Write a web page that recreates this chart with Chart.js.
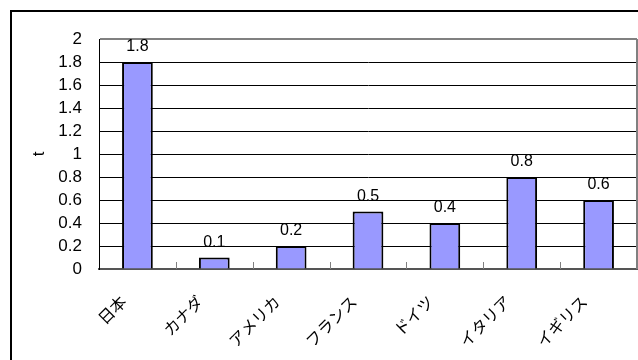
<!DOCTYPE html>
<html>
<head>
<meta charset="utf-8">
<script src="https://cdn.jsdelivr.net/npm/chart.js@4.4.0/dist/chart.umd.min.js"></script>
<style>
html, body { margin: 0; padding: 0; background: #fff; }
#wrap { width: 638px; height: 360px; }
</style>
</head>
<body>
<div id="wrap"><canvas id="chart" width="638" height="360"></canvas></div>
<script>
const categories = ['日本', 'カナダ', 'アメリカ', 'フランス', 'ドイツ', 'イタリア', 'イギリス'];
const values = [1.8, 0.1, 0.2, 0.5, 0.4, 0.8, 0.6];
const yMin = 0, yMax = 2, yStep = 0.2;
const yTitle = 't';

const FONT = "'Liberation Sans', 'Noto Sans CJK JP', sans-serif";

// frame around the whole chart, right border of the plot area
let frame = {
	id: 'frame',
	beforeDraw: function(chart){
		let ctx = chart.ctx;
		ctx.save();
		ctx.fillStyle = '#fff';
		ctx.fillRect(0, 0, chart.width, chart.height);
		ctx.strokeStyle = '#000';
		ctx.lineWidth = 2;
		ctx.strokeRect(11, 11, 700, 700);
		ctx.restore();
	},
	afterDatasetsDraw: function(chart){
		let ctx = chart.ctx;
		let a = chart.chartArea;
		let x = chart.scales.x;
		ctx.save();
		ctx.strokeStyle = '#808080';
		ctx.lineWidth = 1;
		// category separators on the x axis
		for (let i = 1; i < categories.length; i++){
			let px = Math.round(x.getPixelForValue(i - 0.5)) + 0.5;
			ctx.beginPath();
			ctx.moveTo(px, a.bottom);
			ctx.lineTo(px, a.bottom - 7);
			ctx.stroke();
		}
		ctx.lineWidth = 2;
		ctx.beginPath();
		ctx.moveTo(a.right, a.top);
		ctx.lineTo(a.right, a.bottom);
		ctx.stroke();
		ctx.restore();
	}
}

// value labels over the bars
let value_labels = {
	id: 'value_labels',
	afterDatasetsDraw: function(chart){
		let ctx = chart.ctx;
		let meta = chart.getDatasetMeta(0);
		ctx.save();
		ctx.font = '16px ' + FONT;
		ctx.fillStyle = '#000';
		ctx.textAlign = 'center';
		ctx.textBaseline = 'bottom';
		meta.data.forEach((bar, i) => {
			ctx.fillText(String(values[i]), bar.x, bar.y - 7);
		})
		ctx.restore();
	}
}

Chart.defaults.font.family = FONT;
Chart.defaults.font.size = 17;
Chart.defaults.color = '#000';

new Chart('chart', {
	type: 'bar',
	data: {
		labels: categories,
		datasets: [{
			data: values,
			backgroundColor: '#9999ff',
			borderColor: '#000',
			borderWidth: 2,
			categoryPercentage: 1,
			barPercentage: 0.4
		}]
	},
	options: {
		responsive: false,
		animation: false,
		devicePixelRatio: 1,
		layout: { padding: { left: 0, top: 39, right: 1, bottom: 0 } },
		plugins: {
			legend: { display: false },
			tooltip: { enabled: false }
		},
		scales: {
			x: {
				grid: { display: false },
				border: { display: true, color: '#555', width: 2 },
				ticks: {
					autoSkip: false,
					maxRotation: 45,
					minRotation: 45,
					padding: 16,
					labelOffset: -13,
					font: { size: 16 }
				},
				afterFit: function(scale){ scale.height = 91; }
			},
			y: {
				min: yMin,
				max: yMax,
				grid: {
					drawTicks: false,
					color: (c) => (c.tick && c.tick.value === yMax) ? '#808080' : '#000',
					lineWidth: (c) => (c.tick && c.tick.value === yMax) ? 2 : 1
				},
				border: { display: true, color: '#000', width: 1 },
				ticks: {
					autoSkip: false,
					stepSize: yStep,
					padding: 17,
					callback: (v) => String(Number(v.toFixed(1)))
				},
				title: {
					display: true,
					text: yTitle,
					font: { size: 17 },
					padding: { top: 29, bottom: 0 }
				},
				afterFit: function(scale){ scale.width = 99; }
			}
		}
	},
	plugins: [frame, value_labels]
})
</script>
</body>
</html>
